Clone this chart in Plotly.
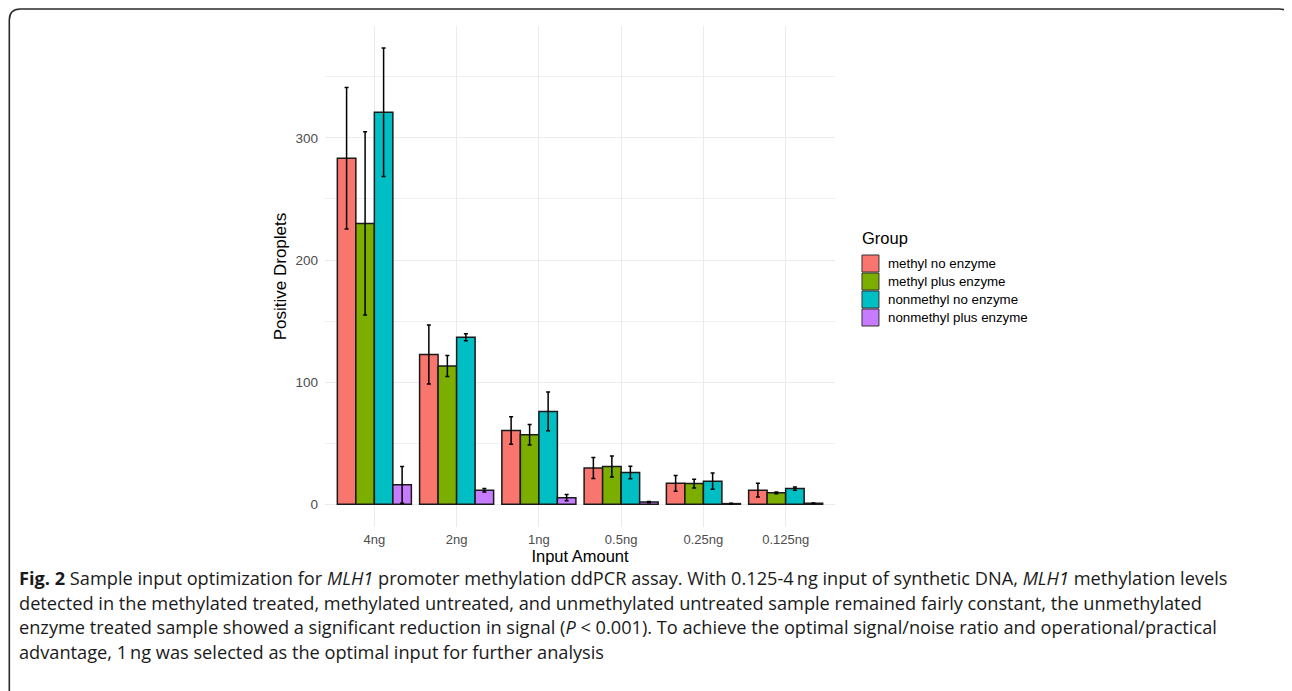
import plotly.graph_objects as go

categories = ["4ng", "2ng", "1ng", "0.5ng", "0.25ng", "0.125ng"]
groups = ["methyl no enzyme", "methyl plus enzyme", "nonmethyl no enzyme", "nonmethyl plus enzyme"]
colors = ["#F8766D", "#7CAE00", "#00BFC4", "#C77CFF"]

methyl_no_enzyme = [283.3, 122.6, 60.4, 29.6, 17.1, 11.5]
methyl_no_enzyme_err = [58.0, 24.1, 11.2, 8.6, 6.4, 5.6]
methyl_plus_enzyme = [230.0, 113.3, 56.9, 30.9, 16.9, 9.3]
methyl_plus_enzyme_err = [75.1, 8.6, 8.4, 8.5, 3.6, 0.8]
nonmethyl_no_enzyme = [321.0, 136.8, 76.0, 26.0, 18.9, 12.8]
nonmethyl_no_enzyme_err = [52.6, 2.9, 15.9, 5.2, 6.7, 1.4]
nonmethyl_plus_enzyme = [15.9, 11.5, 5.4, 1.8, 0.5, 0.8]
nonmethyl_plus_enzyme_err = [15.0, 1.4, 2.6, 0.5, 0.3, 0.2]

values = [methyl_no_enzyme, methyl_plus_enzyme, nonmethyl_no_enzyme, nonmethyl_plus_enzyme]
errors = [methyl_no_enzyme_err, methyl_plus_enzyme_err, nonmethyl_no_enzyme_err, nonmethyl_plus_enzyme_err]

legend_title = "Group"

caption_lines = [
    "<b>Fig. 2</b> Sample input optimization for <i>MLH1</i> promoter methylation ddPCR assay. With 0.125-4\u2009ng input of synthetic DNA, <i>MLH1</i> methylation levels",
    "detected in the methylated treated, methylated untreated, and unmethylated untreated sample remained fairly constant, the unmethylated",
    "enzyme treated sample showed a significant reduction in signal (<i>P</i> < 0.001). To achieve the optimal signal/noise ratio and operational/practical",
    "advantage, 1\u2009ng was selected as the optimal input for further analysis",
]

# page body has an 8px margin: work in window pixels, convert to figure pixels
OFF = 8
W, H = 1292 - OFF, 691 - OFF
PL, PR, PT, PB = 325, 835.5, 26, 527  # plot area in window pixels


def px(x):
    return (x - PL) / (PR - PL)


def py(y):
    return (PB - y) / (PB - PT)


fig = go.Figure()
for name, vals, errs, col in zip(groups, values, errors, colors):
    fig.add_trace(go.Bar(
        x=categories, y=vals, name=name, showlegend=False,
        marker=dict(color=col, line=dict(color="#1a1a1a", width=1.5)),
        error_y=dict(type="data", array=errs, visible=True, color="black", thickness=1.5, width=2),
    ))

fig.update_layout(
    width=W, height=H,
    margin=dict(l=PL - OFF, r=W - (PR - OFF), t=PT - OFF, b=H - (PB - OFF), pad=0),
    paper_bgcolor="white", plot_bgcolor="white",
    barmode="group", bargap=0.1, bargroupgap=0,
    font=dict(family="Liberation Sans, Arial, sans-serif", color="black"),
    showlegend=False,
    xaxis=dict(
        type="category", range=[-0.6, 5.6],
        showgrid=True, gridcolor="#ebebeb", gridwidth=1.2,
        zeroline=False, showline=False, ticks="",
        ticklabelstandoff=3,
        tickfont=dict(size=13, color="#4d4d4d"),
        title=dict(text="Input Amount", font=dict(size=16.5, color="black"), standoff=0),
    ),
    yaxis=dict(
        range=[-18.65, 391.65],
        tickvals=[0, 100, 200, 300],
        showgrid=True, gridcolor="#ebebeb", gridwidth=1.2,
        minor=dict(tickvals=[50, 150, 250, 350], showgrid=True, gridcolor="#f0f0f0", gridwidth=0.8),
        zeroline=False, showline=False, ticks="",
        ticklabelstandoff=6,
        tickfont=dict(size=13.5, color="#4d4d4d"),
        title=dict(text="Positive Droplets", font=dict(size=17, color="black"), standoff=4),
    ),
)

# legend drawn as keys + labels
fig.add_annotation(text=legend_title, x=px(861), y=py(238), xref="paper", yref="paper",
                   xanchor="left", yanchor="middle", showarrow=False,
                   font=dict(size=16.5, color="black"))
for i, (name, col) in enumerate(zip(groups, colors)):
    yc = 263.5 + 18 * i
    fig.add_shape(type="rect", xref="paper", yref="paper",
                  x0=px(862.5), x1=px(879.5), y0=py(yc - 8.5), y1=py(yc + 8.5),
                  fillcolor=col, line=dict(color="#333333", width=1))
    fig.add_annotation(text=name, x=px(887), y=py(yc), xref="paper", yref="paper",
                       xanchor="left", yanchor="middle", showarrow=False,
                       font=dict(size=13.3, color="black"))

# rounded frame
r = 11
path = (f"M {px(9)},{py(H + 20)} L {px(9)},{py(9 + r)} "
        f"Q {px(9)},{py(9)} {px(9 + r)},{py(9)} "
        f"L {px(1291 - r)},{py(9)} Q {px(1291)},{py(9)} {px(1291)},{py(9 + r)} "
        f"L {px(1291)},{py(H + 20)}")
fig.add_shape(type="path", path=path, xref="paper", yref="paper",
              line=dict(color="#2b2b2b", width=1.6), layer="above")

line_y = [578, 602.5, 627, 651.5]
for txt, yy in zip(caption_lines, line_y):
    fig.add_annotation(text=txt, x=px(17), y=py(yy), xref="paper", yref="paper",
                       xanchor="left", yanchor="middle", showarrow=False,
                       font=dict(family="Open Sans, sans-serif", size=18.2, color="#1a1a1a"))

fig.write_html("out.html")
